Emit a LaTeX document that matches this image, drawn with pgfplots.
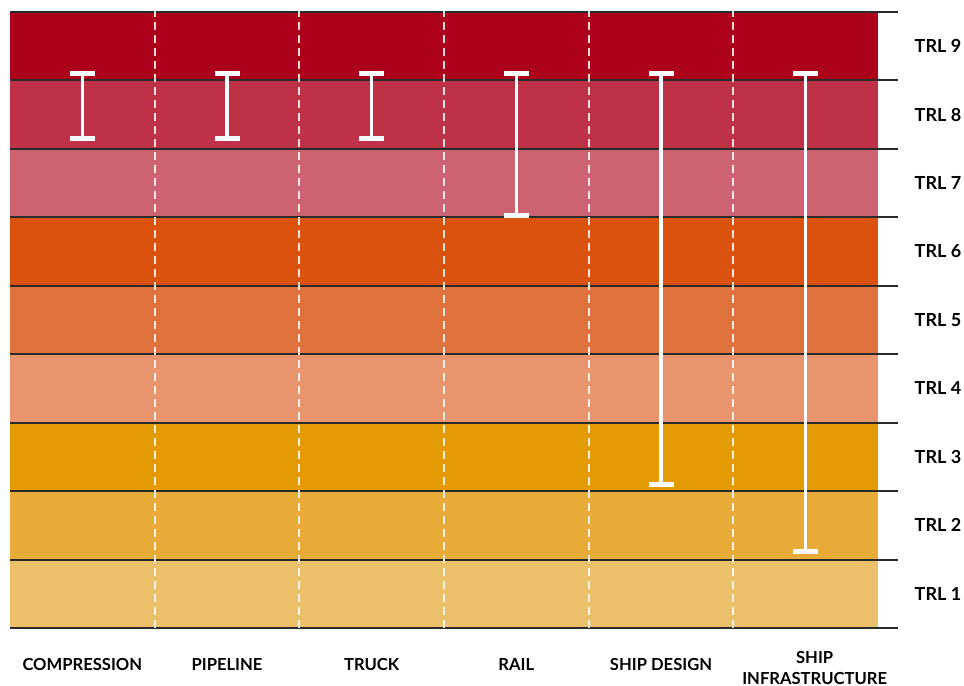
\documentclass[border=0pt]{standalone}
\usepackage{pgfplots}
\pgfplotsset{compat=1.18}
\usepackage{fontspec}
\setmainfont{Lato}
\definecolor{t9}{HTML}{AD001A}
\definecolor{t8}{HTML}{BF3146}
\definecolor{t7}{HTML}{CD6371}
\definecolor{t6}{HTML}{DA520E}
\definecolor{t5}{HTML}{E0733D}
\definecolor{t4}{HTML}{E8956D}
\definecolor{t3}{HTML}{E39A03}
\definecolor{t2}{HTML}{E8AB37}
\definecolor{t1}{HTML}{ECC06A}
\definecolor{gridline}{HTML}{2A2A2A}
\begin{document}
\begin{tikzpicture}
\begin{axis}[
  name=ax,
  scale only axis,
  width=868bp, height=616bp,
  xmin=0, xmax=6, ymin=0, ymax=9,
  axis line style={draw=none},
  clip=false,
  xtick={0.5,1.5,2.5,3.5,4.5},
  xticklabels={COMPRESSION,PIPELINE,TRUCK,RAIL,SHIP DESIGN},
  extra x ticks={5.5},
  extra x tick labels={{SHIP\\INFRASTRUCTURE}},
  extra x tick style={xticklabel style={xshift=9bp, yshift=-3bp}},
  xticklabel style={font=\fontsize{16.6bp}{20.5bp}\selectfont\bfseries, align=center, anchor=center, yshift=-37bp},
  ytick={0.5,1.5,...,8.5},
  yticklabels={TRL 1,TRL 2,TRL 3,TRL 4,TRL 5,TRL 6,TRL 7,TRL 8,TRL 9},
  yticklabel pos=right,
  yticklabel style={font=\fontsize{18bp}{18bp}\selectfont\bfseries, anchor=center, xshift=60bp},
  major tick length=0pt,
  tick style={draw=none},
]
% TRL bands
\addplot[draw=none, fill=t1] coordinates {(0,0) (6,0) (6,1) (0,1)} -- cycle;
\addplot[draw=none, fill=t2] coordinates {(0,1) (6,1) (6,2) (0,2)} -- cycle;
\addplot[draw=none, fill=t3] coordinates {(0,2) (6,2) (6,3) (0,3)} -- cycle;
\addplot[draw=none, fill=t4] coordinates {(0,3) (6,3) (6,4) (0,4)} -- cycle;
\addplot[draw=none, fill=t5] coordinates {(0,4) (6,4) (6,5) (0,5)} -- cycle;
\addplot[draw=none, fill=t6] coordinates {(0,5) (6,5) (6,6) (0,6)} -- cycle;
\addplot[draw=none, fill=t7] coordinates {(0,6) (6,6) (6,7) (0,7)} -- cycle;
\addplot[draw=none, fill=t8] coordinates {(0,7) (6,7) (6,8) (0,8)} -- cycle;
\addplot[draw=none, fill=t9] coordinates {(0,8) (6,8) (6,9) (0,9)} -- cycle;
% band boundaries
\pgfplotsinvokeforeach{0,...,9}{
  \addplot[gridline, line width=2bp] coordinates {(0,#1) (6.14,#1)};
}
% column separators
\pgfplotsinvokeforeach{1,...,5}{
  \addplot[white, opacity=0.85, line width=2bp, dash pattern=on 8bp off 5bp] coordinates {(#1,0) (#1,9.15)};
}
% TRL ranges
\addplot[white, line width=3.5bp, mark=-, mark size=12.5bp, mark options={line width=4.5bp}] coordinates {(0.5,7.15) (0.5,8.1)};
\addplot[white, line width=3.5bp, mark=-, mark size=12.5bp, mark options={line width=4.5bp}] coordinates {(1.5,7.15) (1.5,8.1)};
\addplot[white, line width=3.5bp, mark=-, mark size=12.5bp, mark options={line width=4.5bp}] coordinates {(2.5,7.15) (2.5,8.1)};
\addplot[white, line width=3.5bp, mark=-, mark size=12.5bp, mark options={line width=4.5bp}] coordinates {(3.5,6.03) (3.5,8.1)};
\addplot[white, line width=3.5bp, mark=-, mark size=12.5bp, mark options={line width=4.5bp}] coordinates {(4.5,2.1) (4.5,8.1)};
\addplot[white, line width=3.5bp, mark=-, mark size=12.5bp, mark options={line width=4.5bp}] coordinates {(5.5,1.12) (5.5,8.1)};
\end{axis}
\pgfresetboundingbox
\path ([shift={(-10bp,-58bp)}]ax.south west) rectangle ([shift={(86bp,12bp)}]ax.north east);
\end{tikzpicture}
\end{document}
